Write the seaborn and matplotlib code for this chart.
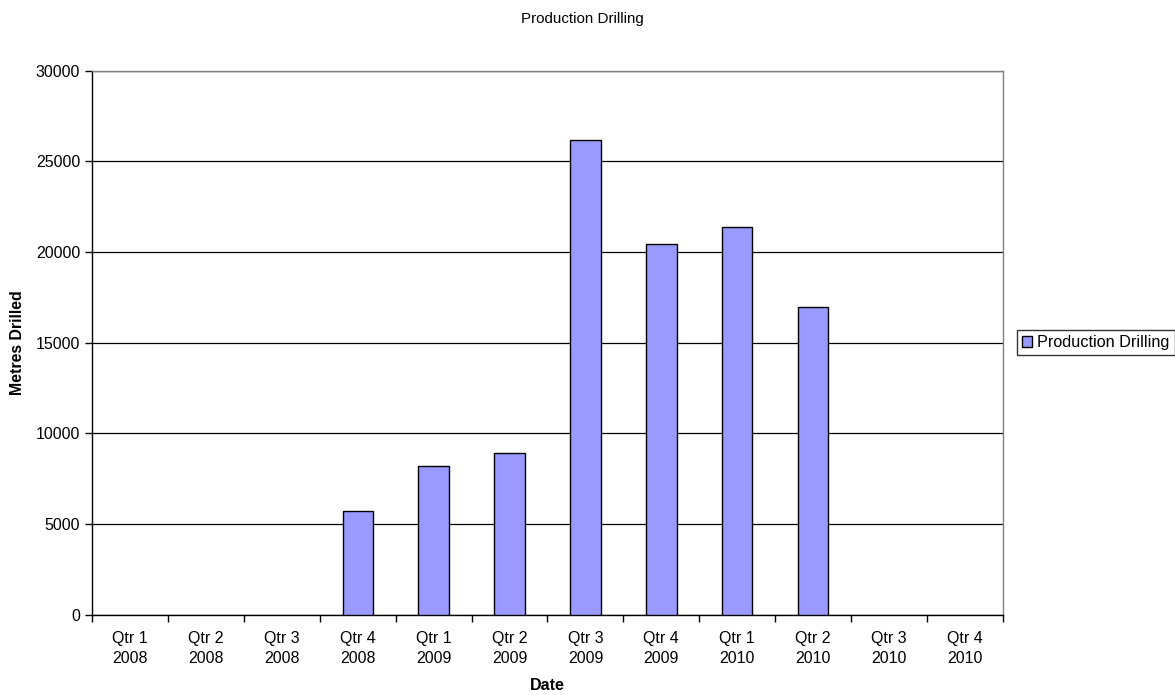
import numpy as np
import pandas as pd
import seaborn as sns
import matplotlib.pyplot as plt
from matplotlib.ticker import FixedLocator

quarters = ["Qtr 1\n2008", "Qtr 2\n2008", "Qtr 3\n2008", "Qtr 4\n2008",
            "Qtr 1\n2009", "Qtr 2\n2009", "Qtr 3\n2009", "Qtr 4\n2009",
            "Qtr 1\n2010", "Qtr 2\n2010", "Qtr 3\n2010", "Qtr 4\n2010"]
metres = [0, 0, 0, 5730, 8210, 8930, 26170, 20430, 21390, 16950, 0, 0]
series_name = "Production Drilling"

sns.set_style("white")
plt.rcParams['font.family'] = ['Liberation Sans', 'DejaVu Sans']
plt.rcParams['text.color'] = 'black'
plt.rcParams['axes.labelcolor'] = 'black'
plt.rcParams['xtick.color'] = 'black'
plt.rcParams['ytick.color'] = 'black'

df = pd.DataFrame({"Date": quarters, "Metres": metres})

fig = plt.figure(figsize=(11.75, 6.95), dpi=100)
ax = fig.add_axes([0.0783, 0.1155, 0.7753, 0.7828])

sns.barplot(data=df, x="Date", y="Metres", color="#9999FF", width=0.4,
            edgecolor="black", linewidth=1.0, saturation=1, ax=ax,
            label=series_name, zorder=3)

ax.set_xlim(-0.5, len(quarters) - 0.5)
ax.set_ylim(0, 30000)
ax.set_yticks(np.arange(0, 30001, 5000))
ax.yaxis.grid(True, color="black", linewidth=0.9, zorder=0)
ax.set_axisbelow(True)

# ticks between the categories, like Excel
ax.xaxis.set_minor_locator(FixedLocator(np.arange(-0.5, len(quarters), 1.0)))
ax.tick_params(axis="x", which="major", length=0, pad=12, labelsize=11.5)
ax.tick_params(axis="x", which="minor", length=5, width=1, color="black", bottom=True)
ax.tick_params(axis="y", length=5, width=1, color="black", left=True, labelsize=11.5)
for t in ax.get_xticklabels():
    t.set_linespacing(1.35)

for s in ["left", "bottom"]:
    ax.spines[s].set_color("black")
    ax.spines[s].set_linewidth(1.0)
for s in ["top", "right"]:
    ax.spines[s].set_visible(True)
    ax.spines[s].set_color("#808080")
    ax.spines[s].set_linewidth(1.0)

ax.set_xlabel("Date", fontweight="bold", fontsize=11.5, labelpad=9)
ax.set_ylabel("Metres Drilled", fontweight="bold", fontsize=11.4, labelpad=8)
fig.text(0.496, 0.972, "Production Drilling", fontsize=10.9, ha="center", va="center")

leg = ax.legend(loc="center left", bbox_to_anchor=(0.8655, 0.507),
                bbox_transform=fig.transFigure, fontsize=11.7, frameon=True,
                fancybox=False, edgecolor="black", borderpad=0.3,
                handlelength=0.65, handleheight=0.65, handletextpad=0.3,
                borderaxespad=0)
leg.get_frame().set_linewidth(1.0)

# empty quarters: no outline at zero, as in the original
for p in ax.patches:
    if p.get_height() == 0:
        p.set_visible(False)

fig.savefig("out.png", dpi=100)
